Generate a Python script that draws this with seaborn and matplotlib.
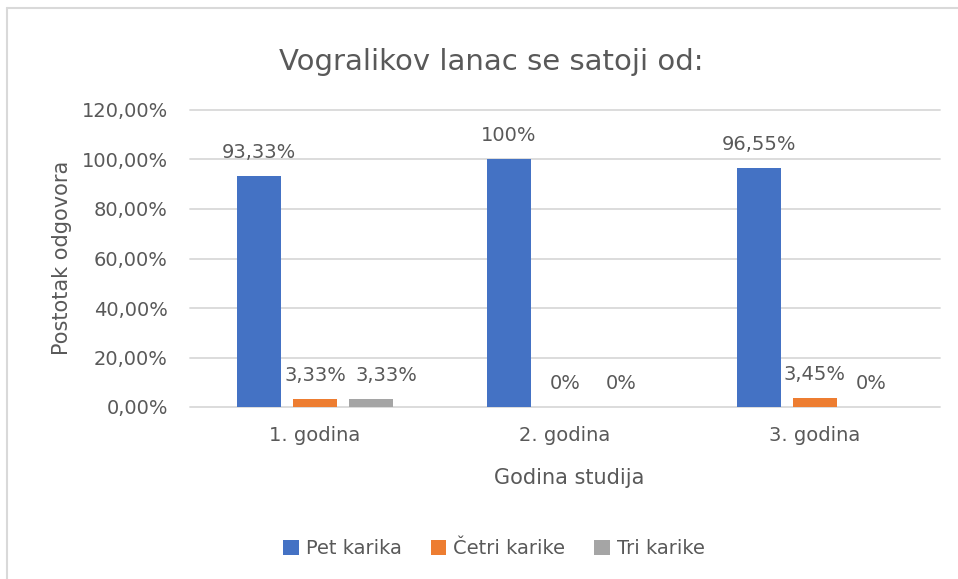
import matplotlib
matplotlib.use("Agg")
import matplotlib.pyplot as plt
from matplotlib.patches import Patch
from matplotlib.lines import Line2D
import seaborn as sns
import pandas as pd

# Chart data
categories = ["1. godina", "2. godina", "3. godina"]
series = ["Pet karika", "Četri karike", "Tri karike"]
pet_karika = [93.33, 100.0, 96.55]
cetri_karike = [3.33, 0.0, 3.45]
tri_karike = [3.33, 0.0, 0.0]
y_ticks = [0, 20, 40, 60, 80, 100, 120]
colors = ["#4472C4", "#ED7D31", "#A5A5A5"]

TEXT = "#595959"
GRID = "#D9D9D9"

df = pd.DataFrame({
    "Godina": categories * 3,
    "Odgovor": [s for s in series for _ in categories],
    "Postotak": pet_karika + cetri_karike + tri_karike,
})

sns.set_theme(style="white")
plt.rcParams["font.family"] = ["DejaVu Sans"]

fig = plt.figure(figsize=(9.58, 5.79), dpi=100)
ax = fig.add_axes([190 / 958, 1 - 407 / 579, 750 / 958, 297 / 579])

sns.barplot(data=df, x="Godina", y="Postotak", hue="Odgovor",
            order=categories, hue_order=series, palette=colors,
            width=0.672, gap=0.2, linewidth=0, saturation=1,
            legend=False, ax=ax)

ax.set_ylim(0, 120)
ax.set_xlim(-0.5, 2.5)
ax.set_yticks(y_ticks)
ax.set_yticklabels([f"{v:.2f}".replace(".", ",") + "%" for v in y_ticks])
ax.yaxis.grid(True, color=GRID, linewidth=1.3)
for gl in ax.yaxis.get_gridlines():
    gl.set_clip_on(False)
ax.set_axisbelow(True)
for s in ax.spines.values():
    s.set_visible(False)
ax.tick_params(axis="both", length=0, colors=TEXT, labelsize=14)
ax.tick_params(axis="y", pad=16)
ax.tick_params(axis="x", pad=14)

ax.set_xlabel("Godina studija", fontsize=15, color=TEXT)
ax.xaxis.set_label_coords((569 - 190) / 750, (407 - 478) / 297)
ax.xaxis.label.set_va("center")
ax.set_ylabel("Postotak odgovora", fontsize=15, color=TEXT)
ax.yaxis.set_label_coords((62 - 190) / 750, (407 - 258) / 297)
ax.yaxis.label.set_va("center")


def fmt(v):
    if float(v).is_integer():
        return f"{v:.0f}%"
    return f"{v:.2f}".replace(".", ",") + "%"


# Value labels above each bar
label_shift = {(2, 0): 11}
values = [pet_karika, cetri_karike, tri_karike]
for si, container in enumerate(ax.containers):
    for ci, patch in enumerate(container.patches):
        v = values[si][ci]
        xc = patch.get_x() + patch.get_width() / 2
        ax.annotate(fmt(v), (xc, v), xytext=(label_shift.get((si, ci), 0), 17),
                    textcoords="offset points", ha="center", va="center",
                    fontsize=14, color=TEXT)

fig.text(491 / 958, 1 - 62 / 579, "Vogralikov lanac se satoji od:",
         ha="center", va="center", fontsize=21, color=TEXT)

handles = [Patch(facecolor=c, edgecolor="none", label=s) for c, s in zip(colors, series)]
fig.legend(handles=handles, loc="center", bbox_to_anchor=(494 / 958, 1 - 549 / 579),
           ncol=3, frameon=False, fontsize=14, labelcolor=TEXT,
           handlelength=0.8, handleheight=0.8, handletextpad=0.35,
           columnspacing=1.5)

# Chart area border (top and left edges)
x0, y0 = 7 / 958, 1 - 8 / 579
fig.add_artist(Line2D([x0, 1.0], [y0, y0], transform=fig.transFigure,
                      color=GRID, linewidth=1.5))
fig.add_artist(Line2D([x0, x0], [0.0, y0], transform=fig.transFigure,
                      color=GRID, linewidth=1.5))

fig.savefig("out.png", dpi=100)
